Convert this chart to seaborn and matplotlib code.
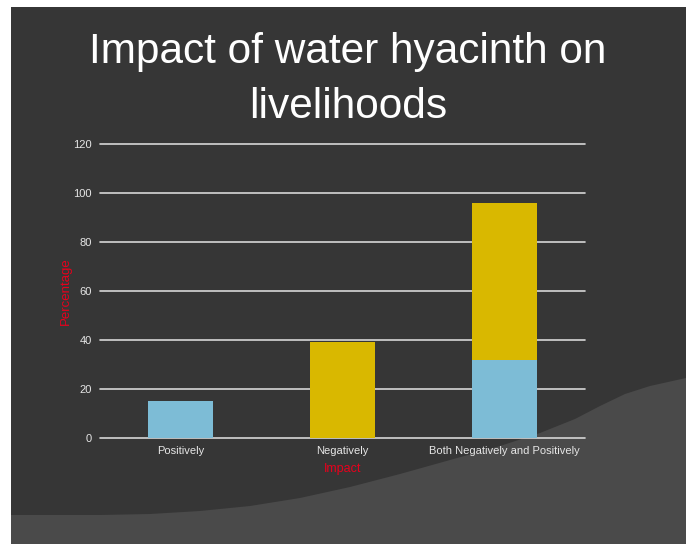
import numpy as np
import pandas as pd
import matplotlib
matplotlib.use("Agg")
import matplotlib.pyplot as plt
from matplotlib.patches import Rectangle, Polygon
import seaborn as sns

# ---- data ----
categories = ["Positively", "Negatively", "Both Negatively and Positively"]
positive_pct = [15, 0, 32]
negative_pct = [0, 39, 64]
y_ticks = [0, 20, 40, 60, 80, 100, 120]
title_line1 = "Impact of water hyacinth on"
title_line2 = "livelihoods"
x_label = "Impact"
y_label = "Percentage"

# ---- style ----
sns.set_theme(style="dark")
plt.rcParams["font.family"] = ["Liberation Sans", "DejaVu Sans"]

W, H = 686, 544
fig = plt.figure(figsize=(W / 100, H / 100), dpi=100, facecolor="white")

def fx(px):
    return px / W

def fy(py_top):
    return 1 - py_top / H

# slide background: light lower band, dark main area with rounded lower-right
fig.patches.append(Rectangle((fx(11), 0), 1 - fx(11), fy(7), transform=fig.transFigure,
                             facecolor="#4a4a4a", edgecolor="none", zorder=-10))
dark_pts = [(11, 7), (686, 7), (686, 378), (650, 386), (625, 394), (600, 406),
            (575, 419), (540, 433), (500, 446), (450, 460), (400, 474), (350, 487),
            (300, 498), (250, 506), (200, 511), (150, 514), (100, 515), (11, 515)]
fig.patches.append(Polygon([(fx(x), fy(y)) for x, y in dark_pts], closed=True,
                           transform=fig.transFigure, facecolor="#363636",
                           edgecolor="none", zorder=-9))

ax = fig.add_axes([fx(100), fy(438), fx(585) - fx(100), fy(144) - fy(438)])
ax.set_zorder(5)
ax.patch.set_alpha(0)

df = pd.DataFrame({
    "category": categories,
    "positive": positive_pct,
    "negative": negative_pct,
})
df["total"] = df["positive"] + df["negative"]

yellow = "#d9b800"
blue = "#7dbcd6"
sns.barplot(data=df, x="category", y="total", color=yellow, saturation=1,
            width=0.4, linewidth=0, ax=ax, zorder=3)
sns.barplot(data=df, x="category", y="positive", color=blue, saturation=1,
            width=0.4, linewidth=0, ax=ax, zorder=4)

ax.set_ylim(0, 120)
ax.set_xlim(-0.5, 2.5)
ax.set_yticks(y_ticks)
ax.set_axisbelow(True)
ax.grid(axis="y", color="#d6d6d6", linewidth=1.2)
ax.grid(axis="x", visible=False)
for gl in ax.get_ygridlines():
    gl.set_clip_on(False)
for s in ax.spines.values():
    s.set_visible(False)
ax.tick_params(axis="both", length=0, colors="#e6e6e6", labelsize=8)
ax.tick_params(axis="y", pad=6)
ax.tick_params(axis="x", pad=6)

ax.set_xlabel(x_label, color="#e8001c", fontsize=9, labelpad=5)
ax.set_ylabel(y_label, color="#e8001c", fontsize=9.5, labelpad=1)

fig.text(fx(348), fy(63), title_line1, color="white", fontsize=30.5,
         ha="center", va="baseline")
fig.text(fx(348), fy(118), title_line2, color="white", fontsize=30.5,
         ha="center", va="baseline")

fig.savefig("out.png", dpi=100, facecolor=fig.get_facecolor())
